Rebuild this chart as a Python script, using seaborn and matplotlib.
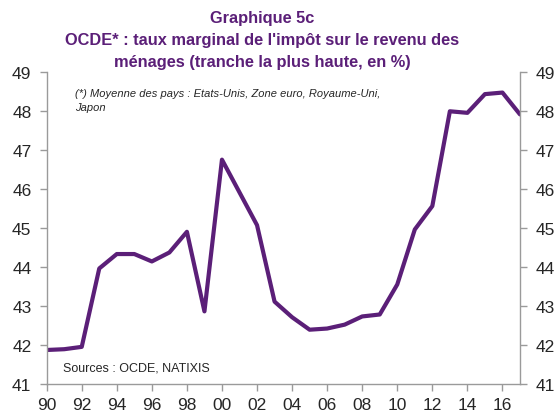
import matplotlib
matplotlib.use("Agg")
import matplotlib.pyplot as plt
import seaborn as sns
import pandas as pd

years = list(range(1990, 2018))
rate = [41.88, 41.90, 41.96, 43.97, 44.34, 44.34, 44.15, 44.38, 44.91, 42.87,
        46.76, 45.92, 45.08, 43.12, 42.72, 42.40, 42.43, 42.53, 42.74, 42.79,
        43.56, 44.97, 45.57, 48.00, 47.96, 48.44, 48.48, 47.92]
tick_years = list(range(1990, 2017, 2))
tick_labels = [f"{y % 100:02d}" for y in tick_years]
y_ticks = list(range(41, 50))

title = "Graphique 5c\nOCDE* : taux marginal de l'impôt sur le revenu des\nménages (tranche la plus haute, en %)"
note = "(*) Moyenne des pays : Etats-Unis, Zone euro, Royaume-Uni,\nJapon"
source = "Sources : OCDE, NATIXIS"

sns.set_style("white")
plt.rcParams['font.family'] = ['Liberation Sans', 'DejaVu Sans']

purple = "#5b1f78"
grey = "#9a9a9a"

df = pd.DataFrame({"year": years, "rate": rate})

W, H = 555, 414
fig = plt.figure(figsize=(W / 100, H / 100), dpi=100)
ax = fig.add_axes([0.0841, 0.0693, 0.9369 - 0.0841, 0.823 - 0.0693])
sns.lineplot(data=df, x="year", y="rate", ax=ax, color=purple, linewidth=3.0)

ax.set_xlim(1990, 2017)
ax.set_ylim(41, 49)
ax.set_xticks(tick_years)
ax.set_xticklabels(tick_labels)
ax.set_yticks(y_ticks)
ax.set_xlabel("")
ax.set_ylabel("")

for s in ["left", "right", "bottom"]:
    ax.spines[s].set_visible(True)
    ax.spines[s].set_color(grey)
    ax.spines[s].set_linewidth(1.0)
ax.spines["top"].set_visible(False)

ax.tick_params(axis="y", left=True, right=True, labelleft=True, labelright=True,
               direction="out", length=5, width=1, color=grey, labelsize=12.5, pad=6)
ax.tick_params(axis="x", bottom=True, direction="out", length=5, width=1,
               color=grey, labelsize=12.5, pad=4)

fig.text(262 / W, 1 - 11 / H, title, ha="center", va="top", fontsize=11.8, fontweight="bold",
         color=purple, linespacing=1.58)
fig.text(75 / W, 1 - 101 / H, note, fontsize=8, style="italic", va="center",
         linespacing=1.45)
fig.text(63 / W, 1 - 369 / H, source, fontsize=9, va="center")

fig.savefig("out.png", dpi=100)
